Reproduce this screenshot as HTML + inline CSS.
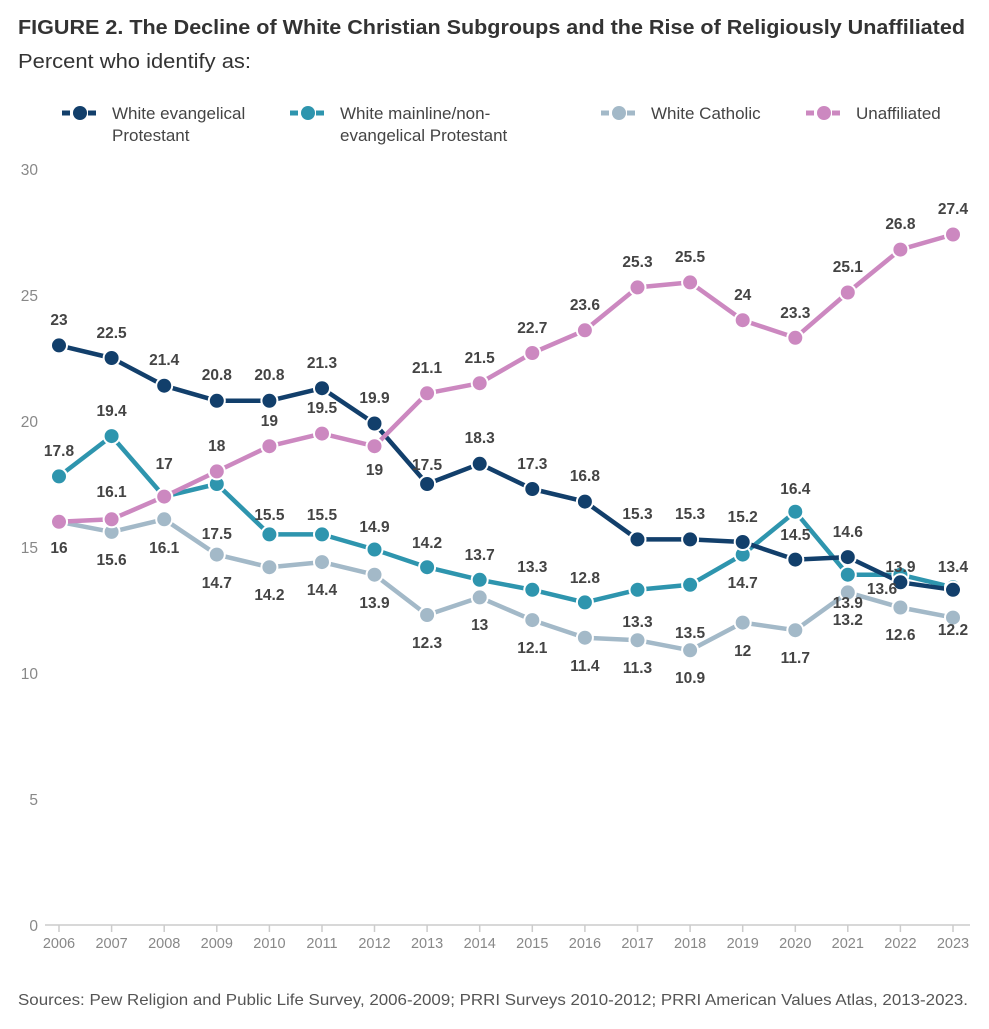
<!DOCTYPE html>
<html><head><meta charset="utf-8"><style>
body{margin:0;background:#fff;font-family:"Liberation Sans",sans-serif}
</style></head><body>
<svg width="989" height="1024" viewBox="0 0 989 1024" xmlns="http://www.w3.org/2000/svg" font-family="Liberation Sans, sans-serif">
<text x="18" y="34" font-size="20" font-weight="bold" fill="#333" textLength="947" lengthAdjust="spacingAndGlyphs">FIGURE 2.  The Decline of White Christian Subgroups and the Rise of Religiously Unaffiliated</text>
<text x="18" y="68" font-size="20" fill="#333" textLength="233" lengthAdjust="spacingAndGlyphs">Percent who identify as:</text>
<g font-size="17" fill="#444">
<line x1="62" y1="113" x2="98" y2="113" stroke="#123f6b" stroke-width="5" stroke-dasharray="8,5"/><circle cx="80" cy="113" r="7" fill="#123f6b"/>
<text x="112" y="119">White evangelical</text><text x="112" y="141">Protestant</text>
<line x1="290" y1="113" x2="326" y2="113" stroke="#2e95ae" stroke-width="5" stroke-dasharray="8,5"/><circle cx="308" cy="113" r="7" fill="#2e95ae"/>
<text x="340" y="119">White mainline/non-</text><text x="340" y="141">evangelical Protestant</text>
<line x1="601" y1="113" x2="637" y2="113" stroke="#a3b9c8" stroke-width="5" stroke-dasharray="8,5"/><circle cx="619" cy="113" r="7" fill="#a3b9c8"/>
<text x="651" y="119">White Catholic</text>
<line x1="806" y1="113" x2="842" y2="113" stroke="#cc88c0" stroke-width="5" stroke-dasharray="8,5"/><circle cx="824" cy="113" r="7" fill="#cc88c0"/>
<text x="856" y="119">Unaffiliated</text>
</g>
<g font-size="15.5" fill="#888" text-anchor="end">
<text x="38" y="175">30</text><text x="38" y="301">25</text><text x="38" y="427">20</text><text x="38" y="553">15</text><text x="38" y="679">10</text><text x="38" y="805">5</text><text x="38" y="931">0</text>
</g>
<line x1="45" y1="925" x2="970" y2="925" stroke="#ccc" stroke-width="1.5"/>
<g stroke="#ccc" stroke-width="1.5">
<line x1="59" y1="925" x2="59" y2="932"/><line x1="111.6" y1="925" x2="111.6" y2="932"/><line x1="164.2" y1="925" x2="164.2" y2="932"/><line x1="216.8" y1="925" x2="216.8" y2="932"/><line x1="269.4" y1="925" x2="269.4" y2="932"/><line x1="322" y1="925" x2="322" y2="932"/><line x1="374.5" y1="925" x2="374.5" y2="932"/><line x1="427.1" y1="925" x2="427.1" y2="932"/><line x1="479.7" y1="925" x2="479.7" y2="932"/><line x1="532.3" y1="925" x2="532.3" y2="932"/><line x1="584.9" y1="925" x2="584.9" y2="932"/><line x1="637.5" y1="925" x2="637.5" y2="932"/><line x1="690.1" y1="925" x2="690.1" y2="932"/><line x1="742.7" y1="925" x2="742.7" y2="932"/><line x1="795.3" y1="925" x2="795.3" y2="932"/><line x1="847.8" y1="925" x2="847.8" y2="932"/><line x1="900.4" y1="925" x2="900.4" y2="932"/><line x1="953" y1="925" x2="953" y2="932"/>
</g>
<g font-size="14.5" fill="#888" text-anchor="middle">
<text x="59" y="948">2006</text><text x="111.6" y="948">2007</text><text x="164.2" y="948">2008</text><text x="216.8" y="948">2009</text><text x="269.4" y="948">2010</text><text x="322" y="948">2011</text><text x="374.5" y="948">2012</text><text x="427.1" y="948">2013</text><text x="479.7" y="948">2014</text><text x="532.3" y="948">2015</text><text x="584.9" y="948">2016</text><text x="637.5" y="948">2017</text><text x="690.1" y="948">2018</text><text x="742.7" y="948">2019</text><text x="795.3" y="948">2020</text><text x="847.8" y="948">2021</text><text x="900.4" y="948">2022</text><text x="953" y="948">2023</text>
</g>
<text x="18" y="1005" font-size="16" fill="#555" textLength="950" lengthAdjust="spacingAndGlyphs">Sources: Pew Religion and Public Life Survey, 2006-2009; PRRI Surveys 2010-2012; PRRI American Values Atlas, 2013-2023.</text>

<g stroke-width="4.5" fill="none" stroke-linejoin="round">
<polyline stroke="#a3b9c8" points="59,521.8 111.6,531.9 164.2,519.3 216.8,554.6 269.4,567.2 322,562.1 374.5,574.7 427.1,615 479.7,597.4 532.3,620.1 584.9,637.7 637.5,640.2 690.1,650.3 742.7,622.6 795.3,630.2 847.8,592.4 900.4,607.5 953,617.6"/>
<polyline stroke="#2e95ae" points="59,476.4 111.6,436.1 164.2,496.6 216.8,484 269.4,534.4 322,534.4 374.5,549.5 427.1,567.2 479.7,579.8 532.3,589.8 584.9,602.4 637.5,589.8 690.1,584.8 742.7,554.6 795.3,511.7 847.8,574.7 900.4,574.7 953,587.3"/>
<polyline stroke="#123f6b" points="59,345.4 111.6,358 164.2,385.7 216.8,400.8 269.4,400.8 322,388.2 374.5,423.5 427.1,484 479.7,463.8 532.3,489 584.9,501.6 637.5,539.4 690.1,539.4 742.7,542 795.3,559.6 847.8,557.1 900.4,582.3 953,589.8"/>
<polyline stroke="#cc88c0" points="59,521.8 111.6,519.3 164.2,496.6 216.8,471.4 269.4,446.2 322,433.6 374.5,446.2 427.1,393.3 479.7,383.2 532.3,353 584.9,330.3 637.5,287.4 690.1,282.4 742.7,320.2 795.3,337.8 847.8,292.5 900.4,249.6 953,234.5"/>
</g>
<g stroke="#fff" stroke-width="2">
<g fill="#a3b9c8"><circle cx="59" cy="521.8" r="8"/><circle cx="111.6" cy="531.9" r="8"/><circle cx="164.2" cy="519.3" r="8"/><circle cx="216.8" cy="554.6" r="8"/><circle cx="269.4" cy="567.2" r="8"/><circle cx="322" cy="562.1" r="8"/><circle cx="374.5" cy="574.7" r="8"/><circle cx="427.1" cy="615" r="8"/><circle cx="479.7" cy="597.4" r="8"/><circle cx="532.3" cy="620.1" r="8"/><circle cx="584.9" cy="637.7" r="8"/><circle cx="637.5" cy="640.2" r="8"/><circle cx="690.1" cy="650.3" r="8"/><circle cx="742.7" cy="622.6" r="8"/><circle cx="795.3" cy="630.2" r="8"/><circle cx="847.8" cy="592.4" r="8"/><circle cx="900.4" cy="607.5" r="8"/><circle cx="953" cy="617.6" r="8"/></g>
<g fill="#2e95ae"><circle cx="59" cy="476.4" r="8"/><circle cx="111.6" cy="436.1" r="8"/><circle cx="164.2" cy="496.6" r="8"/><circle cx="216.8" cy="484" r="8"/><circle cx="269.4" cy="534.4" r="8"/><circle cx="322" cy="534.4" r="8"/><circle cx="374.5" cy="549.5" r="8"/><circle cx="427.1" cy="567.2" r="8"/><circle cx="479.7" cy="579.8" r="8"/><circle cx="532.3" cy="589.8" r="8"/><circle cx="584.9" cy="602.4" r="8"/><circle cx="637.5" cy="589.8" r="8"/><circle cx="690.1" cy="584.8" r="8"/><circle cx="742.7" cy="554.6" r="8"/><circle cx="795.3" cy="511.7" r="8"/><circle cx="847.8" cy="574.7" r="8"/><circle cx="900.4" cy="574.7" r="8"/><circle cx="953" cy="587.3" r="8"/></g>
<g fill="#123f6b"><circle cx="59" cy="345.4" r="8"/><circle cx="111.6" cy="358" r="8"/><circle cx="164.2" cy="385.7" r="8"/><circle cx="216.8" cy="400.8" r="8"/><circle cx="269.4" cy="400.8" r="8"/><circle cx="322" cy="388.2" r="8"/><circle cx="374.5" cy="423.5" r="8"/><circle cx="427.1" cy="484" r="8"/><circle cx="479.7" cy="463.8" r="8"/><circle cx="532.3" cy="489" r="8"/><circle cx="584.9" cy="501.6" r="8"/><circle cx="637.5" cy="539.4" r="8"/><circle cx="690.1" cy="539.4" r="8"/><circle cx="742.7" cy="542" r="8"/><circle cx="795.3" cy="559.6" r="8"/><circle cx="847.8" cy="557.1" r="8"/><circle cx="900.4" cy="582.3" r="8"/><circle cx="953" cy="589.8" r="8"/></g>
<g fill="#cc88c0"><circle cx="59" cy="521.8" r="8"/><circle cx="111.6" cy="519.3" r="8"/><circle cx="164.2" cy="496.6" r="8"/><circle cx="216.8" cy="471.4" r="8"/><circle cx="269.4" cy="446.2" r="8"/><circle cx="322" cy="433.6" r="8"/><circle cx="374.5" cy="446.2" r="8"/><circle cx="427.1" cy="393.3" r="8"/><circle cx="479.7" cy="383.2" r="8"/><circle cx="532.3" cy="353" r="8"/><circle cx="584.9" cy="330.3" r="8"/><circle cx="637.5" cy="287.4" r="8"/><circle cx="690.1" cy="282.4" r="8"/><circle cx="742.7" cy="320.2" r="8"/><circle cx="795.3" cy="337.8" r="8"/><circle cx="847.8" cy="292.5" r="8"/><circle cx="900.4" cy="249.6" r="8"/><circle cx="953" cy="234.5" r="8"/></g>
</g>
<g font-size="15.5" font-weight="bold" fill="#444" text-anchor="middle">
<text x="59" y="325">23</text><text x="111.6" y="338">22.5</text><text x="164.2" y="365">21.4</text><text x="216.8" y="380">20.8</text><text x="269.4" y="380">20.8</text><text x="322" y="368">21.3</text><text x="374.5" y="403">19.9</text><text x="427.1" y="470">17.5</text><text x="479.7" y="443">18.3</text><text x="532.3" y="469">17.3</text><text x="584.9" y="481">16.8</text><text x="637.5" y="519">15.3</text><text x="690.1" y="519">15.3</text><text x="742.7" y="522">15.2</text><text x="795.3" y="540">14.5</text><text x="847.8" y="537">14.6</text><text x="882" y="594">13.6</text>
<text x="59" y="456">17.8</text><text x="111.6" y="416">19.4</text><text x="164.2" y="469">17</text><text x="216.8" y="539">17.5</text><text x="269.4" y="520">15.5</text><text x="322" y="520">15.5</text><text x="374.5" y="532">14.9</text><text x="427.1" y="548">14.2</text><text x="479.7" y="560">13.7</text><text x="532.3" y="572">13.3</text><text x="584.9" y="583">12.8</text><text x="637.5" y="627">13.3</text><text x="690.1" y="638">13.5</text><text x="742.7" y="588">14.7</text><text x="795.3" y="494">16.4</text><text x="847.8" y="608">13.9</text><text x="900.4" y="572">13.9</text><text x="953" y="572">13.4</text>
<text x="59" y="553">16</text><text x="111.6" y="565">15.6</text><text x="164.2" y="553">16.1</text><text x="216.8" y="588">14.7</text><text x="269.4" y="600">14.2</text><text x="322" y="595">14.4</text><text x="374.5" y="608">13.9</text><text x="427.1" y="648">12.3</text><text x="479.7" y="630">13</text><text x="532.3" y="653">12.1</text><text x="584.9" y="671">11.4</text><text x="637.5" y="673">11.3</text><text x="690.1" y="683">10.9</text><text x="742.7" y="656">12</text><text x="795.3" y="663">11.7</text><text x="847.8" y="625">13.2</text><text x="900.4" y="640">12.6</text><text x="953" y="635">12.2</text>
<text x="111.6" y="497">16.1</text><text x="216.8" y="451">18</text><text x="269.4" y="426">19</text><text x="322" y="413">19.5</text><text x="374.5" y="475">19</text><text x="427.1" y="373">21.1</text><text x="479.7" y="363">21.5</text><text x="532.3" y="333">22.7</text><text x="584.9" y="310">23.6</text><text x="637.5" y="267">25.3</text><text x="690.1" y="262">25.5</text><text x="742.7" y="300">24</text><text x="795.3" y="318">23.3</text><text x="847.8" y="272">25.1</text><text x="900.4" y="229">26.8</text><text x="953" y="214">27.4</text>
</g>
</svg>
</body></html>
